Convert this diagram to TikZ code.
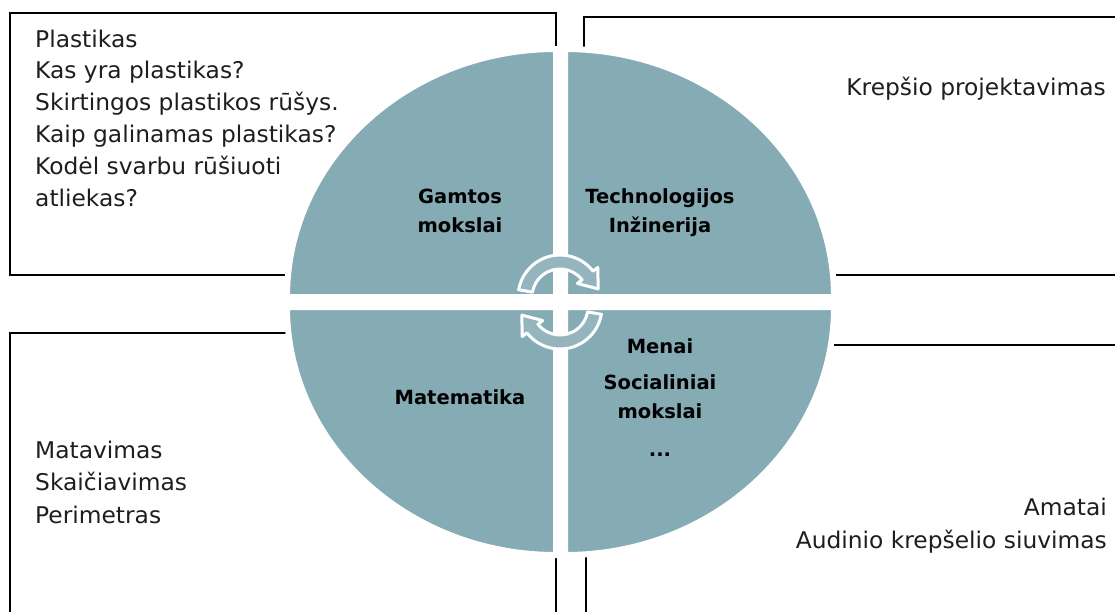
\documentclass[tikz,border=0pt]{standalone}
\usepackage{fontspec}
\setmainfont{DejaVu Sans}[FakeStretch=1.015]
\newfontfamily\labfont{DejaVu Sans}
\definecolor{pie}{RGB}{133,171,181}
\definecolor{ink}{RGB}{30,30,30}
\begin{document}
\begin{tikzpicture}[x=1pt,y=-1pt,
 boxline/.style={draw=black,line width=2pt},
 quad/.style={fill=pie,draw=white,line width=6pt,line join=miter},
 cyc/.style={fill=pie!88!white,draw=white,line width=3pt,line join=round},
 body/.style={font=\fontsize{23}{31.8}\selectfont,text=ink,inner sep=0pt,align=left},
 lab/.style={font=\labfont\bfseries\fontsize{19.5}{28.5}\selectfont,text=black,inner sep=0pt,align=center}]
\useasboundingbox[fill=white] (0,0) rectangle (1115,611);
% boxes
\draw[boxline] (10,13) rectangle (556,275);
\draw[boxline] (1116,17) -- (584,17) -- (584,275) -- (1116,275);
\draw[boxline] (10,612) -- (10,333) -- (556,333) -- (556,612);
\draw[boxline] (586,612) -- (586,345) -- (1116,345);
% quadrants
\path[quad] (556,297) -- (287,297) arc[start angle=180,end angle=270,x radius=269,y radius=248] -- cycle;
\path[quad] (565,297) -- (565,49) arc[start angle=270,end angle=360,x radius=269,y radius=248] -- cycle;
\path[quad] (556,307) -- (287,307) arc[start angle=180,end angle=90,x radius=269,y radius=248] -- cycle;
\path[quad] (565,307) -- (834,307) arc[start angle=0,end angle=90,x radius=269,y radius=248] -- cycle;
% cycle arrows
\begin{scope}[shift={(560,297)}]
\path[cyc] (190:42) arc[start angle=190,end angle=322,radius=42] -- (322:48) -- (348:39) -- (322:22) -- (322:28) arc[start angle=322,end angle=190,radius=28] -- cycle;
\end{scope}
\begin{scope}[shift={(560,307)}]
\path[cyc] (10:42) arc[start angle=10,end angle=142,radius=42] -- (142:48) -- (168:39) -- (142:22) -- (142:28) arc[start angle=142,end angle=10,radius=28] -- cycle;
\end{scope}
% texts (multi-line nodes: base = last line)
\node[body,anchor=base west] (tl) at (35,206) {Plastikas\\Kas yra plastikas?\\Skirtingos plastikos rūšys.\\Kaip galinamas plastikas?\\Kodėl svarbu rūšiuoti\\atliekas?};
\node[body,anchor=base east] (tr) at (1106,95) {Krepšio projektavimas};
\node[body,anchor=base west,font=\fontsize{23}{32.5}\selectfont] (bl) at (35,523) {Matavimas\\Skaičiavimas\\Perimetras};
\node[body,anchor=base east,align=right,font=\fontsize{23}{33}\selectfont] (br) at (1107,548) {Amatai\\Audinio krepšelio siuvimas};
\node[lab,anchor=base] (g) at (460,232) {Gamtos\\mokslai};
\node[lab,anchor=base] (t) at (660,232) {Technologijos\\Inžinerija};
\node[lab,anchor=base] (m) at (460,404) {Matematika};
\node[lab,anchor=base] (me) at (660,353) {Menai};
\node[lab,anchor=base] (s) at (660,418) {Socialiniai\\mokslai};
\node[lab,anchor=base] (d) at (660,456) {...};
\end{tikzpicture}
\end{document}
